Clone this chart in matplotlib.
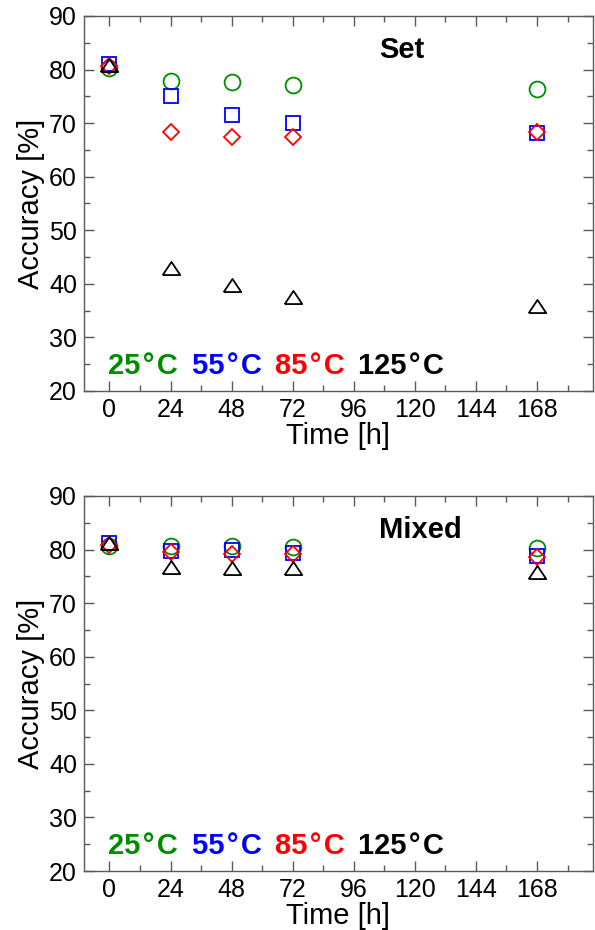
import matplotlib
matplotlib.use("Agg")
import matplotlib.pyplot as plt
from matplotlib.ticker import MultipleLocator

plt.rcParams['font.family'] = ['Liberation Sans', 'DejaVu Sans']

# --- DATA ---
hours = [0, 24, 48, 72, 168]
temps = ['25°C', '55°C', '85°C', '125°C']

set_25 = [80.3, 77.9, 77.6, 77.2, 76.3]
set_55 = [81.0, 75.0, 71.5, 70.0, 68.2]
set_85 = [80.7, 68.4, 67.4, 67.4, 68.4]
set_125 = [80.9, 42.9, 39.8, 37.6, 35.8]

mixed_25 = [80.6, 80.7, 80.6, 80.5, 80.3]
mixed_55 = [81.3, 79.8, 80.0, 79.4, 78.8]
mixed_85 = [80.9, 79.6, 79.2, 79.2, 78.7]
mixed_125 = [81.3, 76.8, 76.5, 76.5, 75.9]

# --- STYLE ---
colors = ['#008c00', '#0000ff', '#ff0000', '#000000']
tri = [(-1, -0.75), (1, -0.75), (0, 0.75), (-1, -0.75)]
markers = [('o', 11.4), ('s', 9.5), ('D', 7.8), (tri, 12.6)]
label_x = [-0.7, 32.5, 65.2, 97.6]
AX_COL = '#5a5a5a'

fig = plt.figure(figsize=(5.95, 9.30), dpi=100)
ax_top = fig.add_axes([0.1412, 0.5796, 0.8554, 0.4032])
ax_bot = fig.add_axes([0.1412, 0.0634, 0.8554, 0.4033])


def draw_panel(ax, series, title):
    for vals, c, (m, ms) in zip(series, colors, markers):
        ax.plot(hours, vals, linestyle='none', marker=m, markersize=ms,
                markerfacecolor='none', markeredgecolor=c, markeredgewidth=1.3)

    ax.set_xlim(-10, 190)
    ax.set_ylim(20, 90)
    ax.xaxis.set_major_locator(MultipleLocator(24))
    ax.xaxis.set_minor_locator(MultipleLocator(12))
    ax.yaxis.set_major_locator(MultipleLocator(10))
    ax.yaxis.set_minor_locator(MultipleLocator(5))
    ax.tick_params(which='both', direction='in', top=True, right=True,
                   color=AX_COL, width=1.0)
    ax.tick_params(which='major', length=7.5, labelsize=18, pad=5)
    ax.tick_params(which='minor', length=4)
    for s in ax.spines.values():
        s.set_color(AX_COL)
        s.set_linewidth(1.0)

    ax.set_xlabel('Time [h]', fontsize=21, labelpad=0)
    ax.set_ylabel('Accuracy [%]', fontsize=21, labelpad=3)

    ax.text(106, 82.1, title, fontsize=21, fontweight='bold', va='baseline')
    # degree sign set a little apart, as in the original
    for t, c, x in zip(temps, colors, label_x):
        ax.text(x, 23.2, t.replace('°', '\u200a°\u200a'), color=c, fontsize=21,
                fontweight='bold', va='baseline')


draw_panel(ax_top, [set_25, set_55, set_85, set_125], 'Set')
draw_panel(ax_bot, [mixed_25, mixed_55, mixed_85, mixed_125], 'Mixed')

fig.savefig('out.png', dpi=100)
